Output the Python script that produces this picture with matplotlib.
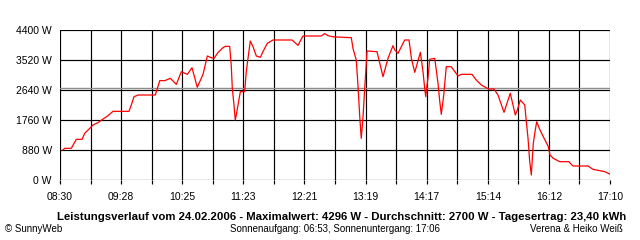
import matplotlib
matplotlib.use("Agg")
import matplotlib.pyplot as plt
import numpy as np

# Minuten nach 08:30 und Leistung in W
minutes = [
    2.8, 4.4, 10.7, 15.4, 20.8, 23.4, 28.1, 31.2, 35.9, 40.7, 45.4, 50.1, 65.2,
    67.4, 70.0, 73.7, 90.1, 94.3, 99.0, 104.3, 110.0, 114.7, 120.4, 124.8, 129.8,
    135.2, 139.3, 143.0, 145.6, 149.4, 154.1, 156.3, 160.4, 161.9, 162.9, 164.5,
    165.7, 166.7, 168.3, 170.5, 174.6, 176.1, 179.9, 182.5, 185.6, 189.4, 191.9,
    196.0, 201.4, 219.3, 225.0, 229.7, 247.0, 250.3, 253.4, 258.1, 275.4, 277.0,
    280.1, 281.7, 283.3, 284.8, 285.5, 286.5, 288.1, 289.0, 290.3, 299.7, 305.4,
    310.1, 314.8, 316.4, 319.6, 325.9, 330.0, 332.2, 335.4, 340.7, 343.2, 344.8,
    345.8, 347.0, 347.9, 349.5, 354.3, 357.4, 359.0, 360.5, 362.8, 365.2, 369.9,
    376.3, 379.4, 389.5, 393.6, 398.3, 405.3, 410.3, 414.1, 419.8, 425.7, 430.5,
    432.4, 435.2, 439.4, 440.9, 442.5, 444.1, 445.6, 447.5, 449.1, 450.7, 453.8,
    456.9, 461.7, 463.3, 466.4, 472.5, 481.0, 485.0, 499.2, 503.9, 510.3, 515.0,
    519.7,
]
power = [
    880, 929, 929, 1193, 1193, 1369, 1515, 1613, 1681, 1789, 1887, 2014, 2014,
    2200, 2444, 2493, 2493, 2914, 2914, 2982, 2806, 3177, 3099, 3294, 2719,
    3099, 3637, 3587, 3569, 3740, 3881, 3921, 3921, 3373, 2690, 2200,
    1760, 1907, 2200, 2591, 2591, 3177, 4077, 3911, 3637, 3599, 3764,
    4010, 4107, 4107, 3950, 4224, 4224, 4296, 4234, 4200, 4175, 3862,
    3520, 2787, 1907, 1222, 1467, 1858, 2690, 3129, 3784, 3764, 3031,
    3569, 3940, 3820, 3716, 4107, 4107, 3569, 3158, 3745, 3177, 2690,
    2444, 2787, 2982, 3540, 3569, 2836, 2317, 1926, 2493, 3324, 3324,
    3051, 3099, 3099, 2933, 2787, 2669, 2669, 2493, 1985, 2543, 1907,
    2050, 2347, 2200, 1711, 1222, 538, 147, 1080, 1417, 1711, 1467,
    1271, 978, 733, 635, 538, 538, 411, 411, 313, 274, 245,
    176,
]
average = 2700

time_labels = ["08:30", "09:28", "10:25", "11:23", "12:21",
               "13:19", "14:17", "15:14", "16:12", "17:10"]
y_ticks = [0, 880, 1760, 2640, 3520, 4400]
y_labels = ["0 W", "880 W", "1760 W", "2640 W", "3520 W", "4400 W"]

title = ("Leistungsverlauf vom 24.02.2006 - Maximalwert: 4296 W - "
         "Durchschnitt: 2700 W - Tagesertrag: 23,40 kWh")
footer_left = "\u00a9 SunnyWeb"
footer_mid = "Sonnenaufgang: 06:53, Sonnenuntergang: 17:06"
footer_right = "Verena & Heiko Wei\u00df"

plt.rcParams["font.family"] = ["Liberation Sans", "DejaVu Sans"]

fig = plt.figure(figsize=(6.4, 2.4), dpi=100)
ax = fig.add_axes([60 / 640, 1 - 180 / 240, 550 / 640, 150 / 240])

t_end = 520
grid_x = np.linspace(0, t_end, 19)
for gx in grid_x:
    ax.axvline(gx, color="black", lw=0.85, zorder=1)
for gy in y_ticks:
    ax.axhline(gy, color="black", lw=0.85, zorder=1)
ax.axhline(average, color="#8c8c8c", lw=1.0, zorder=2)

ax.plot(minutes, power, color="#ff0000", lw=0.9, zorder=3)

ax.set_xlim(0, t_end)
ax.set_ylim(0, 4400)
for s in ax.spines.values():
    s.set_visible(False)

ax.set_xticks(grid_x)
ax.set_xticklabels([time_labels[i // 2] if i % 2 == 0 else "" for i in range(19)],
                   fontsize=7.5)
ax.tick_params(axis="x", length=3, width=0.85, pad=6, color="black")
ax.set_yticks(y_ticks)
ax.set_yticklabels(y_labels, fontsize=7.5)
ax.tick_params(axis="y", length=0, pad=6)

fig.text(0.534, 1 - 217 / 240, title, fontsize=8.2, fontweight="bold",
         ha="center", va="center")
fig.text(5 / 640, 1 - 229 / 240, footer_left, fontsize=7, ha="left", va="center")
fig.text(335 / 640, 1 - 229 / 240, footer_mid, fontsize=7, ha="center", va="center")
fig.text(623 / 640, 1 - 229 / 240, footer_right, fontsize=7, ha="right", va="center")

fig.savefig("out.png", dpi=100, facecolor="white")
